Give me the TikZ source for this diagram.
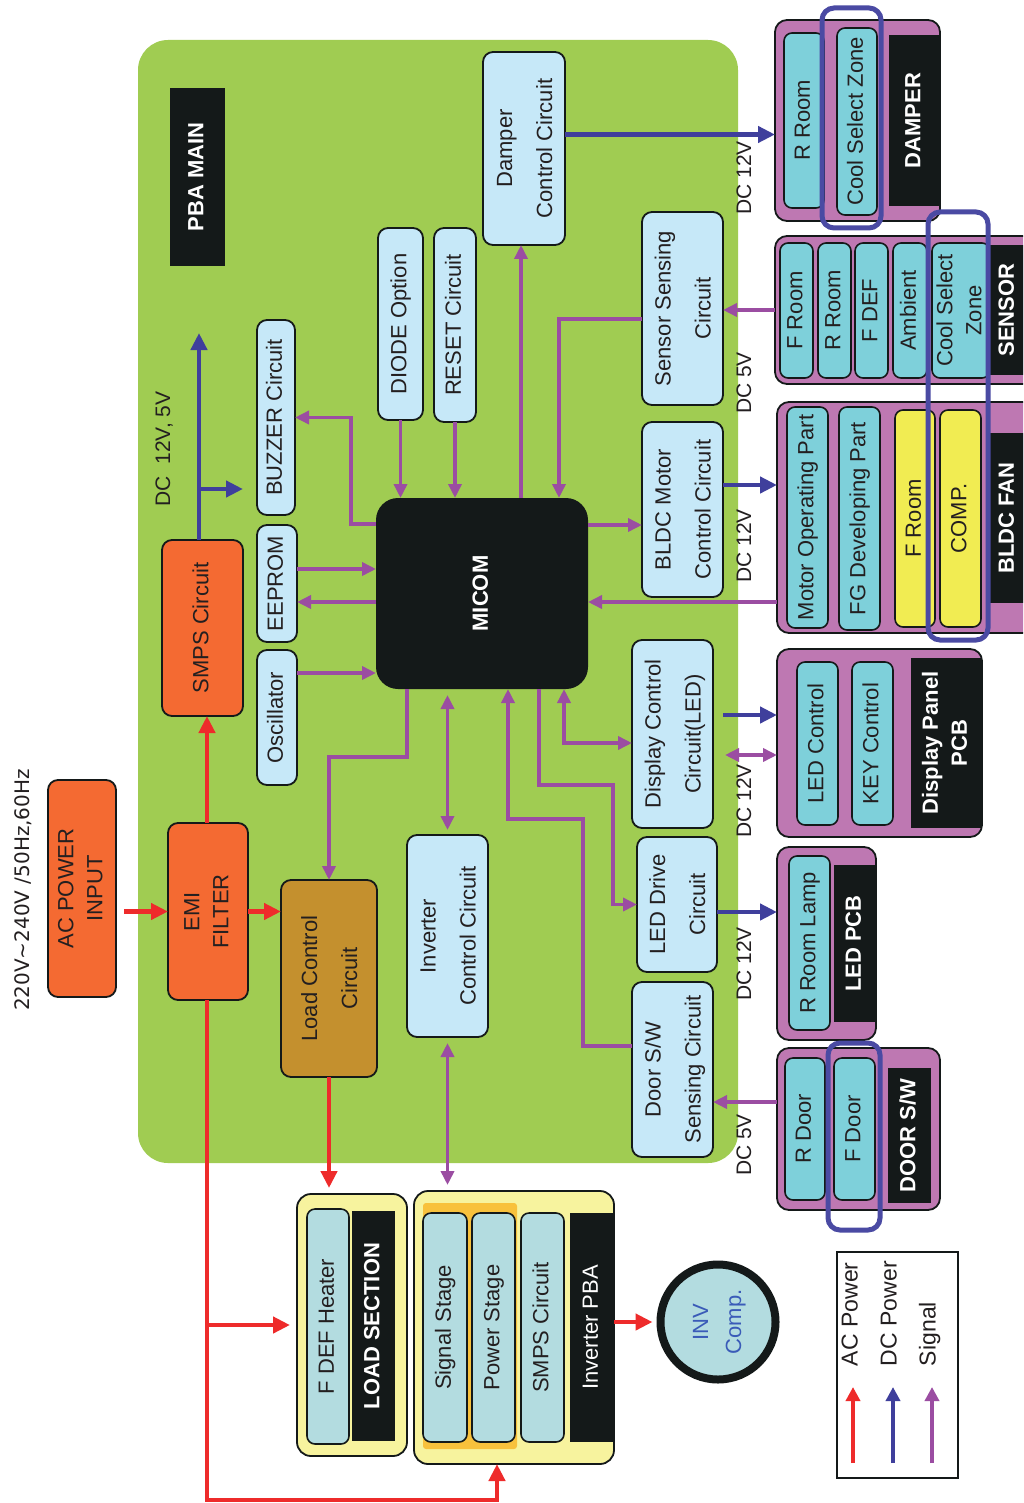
\documentclass[tikz,border=0pt]{standalone}
\usepackage{fontspec}
\setmainfont{Liberation Sans}
\newfontfamily\djv{DejaVu Sans}
\usetikzlibrary{arrows.meta,calc}
\definecolor{boardg}{RGB}{160,204,82}
\definecolor{lblue}{RGB}{198,232,248}
\definecolor{orng}{RGB}{244,106,50}
\definecolor{brwn}{RGB}{196,144,46}
\definecolor{purp}{RGB}{190,120,178}
\definecolor{cyanb}{RGB}{126,208,218}
\definecolor{yelb}{RGB}{241,236,82}
\definecolor{blk}{RGB}{20,25,25}
\definecolor{ylw}{RGB}{247,243,158}
\definecolor{paleb}{RGB}{179,220,224}
\definecolor{gold}{RGB}{248,193,60}
\definecolor{hlblue}{RGB}{74,74,163}
\definecolor{acred}{RGB}{238,43,43}
\definecolor{dcblue}{RGB}{63,63,156}
\definecolor{sigp}{RGB}{155,77,162}
\definecolor{txt}{RGB}{35,31,32}
\definecolor{invtxt}{RGB}{58,91,184}
\newcommand{\vt}[1]{\rotatebox{90}{\begin{tabular}{@{}c@{}}#1\end{tabular}}}
\tikzset{
  sz/.style 2 args={minimum width=#1pt, minimum height=#2pt},
  base/.style={inner sep=0pt, outer sep=0pt, anchor=north west, text=txt, font=\fontsize{22}{29}\selectfont},
  ls/.style={font=\fontsize{22}{40}\selectfont},
  lb/.style={base, draw=blk, line width=1.8pt, rounded corners=10pt, fill=lblue},
  orb/.style={lb, fill=orng},
  modbox/.style={base, draw=blk, line width=1.8pt, rounded corners=12pt, fill=purp},
  cy/.style={base, draw=blk, line width=1.6pt, rounded corners=8pt, fill=cyanb},
  yl/.style={cy, fill=yelb},
  pb/.style={cy, fill=paleb},
  ylbox/.style={base, draw=blk, line width=1.8pt, rounded corners=14pt, fill=ylw},
  bl/.style={base, fill=blk, text=white, font=\fontsize{22}{29}\selectfont\bfseries},
  hl/.style={base, draw=hlblue, line width=5pt, rounded corners=12pt},
  acp/.style={draw=acred, line width=4.5pt, -{Triangle[length=17pt,width=16pt]}},
  dcp/.style={draw=dcblue, line width=4.5pt, -{Triangle[length=17pt,width=16pt]}},
  sig/.style={draw=sigp, line width=3.5pt, -{Triangle[length=14pt,width=13pt]}},
  sigr/.style={draw=sigp, line width=3.5pt, {Triangle[length=14pt,width=13pt]}-},
  sigb/.style={draw=sigp, line width=3.5pt, {Triangle[length=14pt,width=13pt]}-{Triangle[length=14pt,width=13pt]}},
  lab/.style={inner sep=0pt, outer sep=0pt, text=txt, font=\fontsize{21}{25}\selectfont},
  legt/.style={inner sep=0pt, outer sep=0pt, anchor=south, text=txt, font=\fontsize{23}{28}\selectfont},
  lega/.style={line width=3.5pt, -{Triangle[length=14pt,width=14pt]}}
}
\begin{document}
\begin{tikzpicture}[x=1pt,y=-1pt]
\useasboundingbox (0,0) rectangle (1023,1503);
\begin{scope}
\clip (0,0) rectangle (1023,1503);
\fill[white] (0,0) rectangle (1023,1503);

% main board
\node[base, fill=boardg, rounded corners=30pt, sz={600}{1123}] (board) at (138,40) {};
\node[bl, sz={55}{178}] (pba) at (170,88) {\vt{PBA MAIN}};
\node[lb, ls, sz={82}{193}] (damperc) at (483,52) {\vt{Damper\\Control Circuit}};
\node[lb, sz={45}{192}] (diode) at (378,228) {\vt{DIODE Option}};
\node[lb, sz={42}{194}] (reset) at (434,228) {\vt{RESET Circuit}};
\node[lb, ls, sz={81}{193}] (sensc) at (642,212) {\vt{Sensor Sensing\\Circuit}};
\node[lb, sz={38}{195}] (buzzer) at (257,320) {\vt{BUZZER Circuit}};
\node[lb, sz={40}{117}] (eeprom) at (257,525) {\vt{EEPROM}};
\node[lb, sz={40}{135}] (osc) at (257,650) {\vt{Oscillator}};
\node[orb, sz={81}{176}] (smps) at (162,540) {\vt{SMPS Circuit}};
\node[base, fill=blk, rounded corners=22pt, text=white, font=\fontsize{22}{29}\selectfont\bfseries, sz={212}{191}] (micom) at (376,498) {\vt{MICOM}};
\node[lb, ls, sz={81}{175}] (bldcc) at (642,422) {\vt{BLDC Motor\\Control Circuit}};
\node[lb, ls, sz={81}{188}] (dispc) at (632,640) {\vt{Display Control\\Circuit(LED)}};
\node[lb, ls, sz={77}{135}] (ledd) at (637,837) {\vt{LED Drive\\Circuit}};
\node[lb, ls, sz={81}{175}] (doorc) at (632,982) {\vt{Door S/W\\Sensing Circuit}};
\node[lb, ls, sz={81}{202}] (invc) at (407,835) {\vt{Inverter\\Control Circuit}};
\node[lb, ls, fill=brwn, sz={96}{197}] (loadc) at (281,880) {\vt{Load Control\\Circuit}};
\node[orb, sz={80}{177}] (emi) at (168,823) {\vt{EMI\\FILTER}};
\node[orb, sz={68}{217}] (acin) at (48,780) {\vt{AC POWER\\INPUT}};

% labels
\node[inner sep=0pt, text=txt, font=\djv\fontsize{20}{24}\selectfont] (acv) at (23,890) {\rotatebox{90}{220V\textasciitilde240V /50Hz,60Hz}};
\node[lab] (dcsm) at (165,449) {\vt{DC\ \ 12V, 5V}};
\node[lab] (dcl1) at (746,178) {\vt{DC 12V}};
\node[lab] (dcl2) at (746,383) {\vt{DC 5V}};
\node[lab] (dcl3) at (746,546) {\vt{DC 12V}};
\node[lab] (dcl4) at (746,801) {\vt{DC 12V}};
\node[lab] (dcl5) at (746,964) {\vt{DC 12V}};
\node[lab] (dcl6) at (746,1145) {\vt{DC 5V}};

% DAMPER module
\node[modbox, sz={165}{201}] (damper) at (775,20) {};
\node[cy, sz={40}{175}] (droom) at (784,33) {\vt{R Room}};
\node[cy, sz={40}{187}] (dcool) at (837,28) {\vt{Cool Select Zone}};
\node[bl, sz={51}{171}] (dlab) at (889,35) {\vt{DAMPER}};
\node[hl, sz={59}{220}] (hl1) at (822,8) {};

% SENSOR module
\node[modbox, sz={260}{148}] (sensor) at (775,236) {};
\node[cy, sz={33}{135}] (sfroom) at (780,243) {\vt{F Room}};
\node[cy, sz={33}{135}] (srroom) at (818,243) {\vt{R Room}};
\node[cy, sz={33}{135}] (sfdef) at (855,243) {\vt{F DEF}};
\node[cy, sz={34}{135}] (samb) at (893,243) {\vt{Ambient}};
\node[cy, sz={50}{135}] (scool) at (932,243) {\vt{Cool Select\\Zone}};
\node[bl, sz={36}{130}] (slab) at (990,245) {\vt{SENSOR}};

% BLDC FAN module
\node[modbox, sz={258}{231}] (bldcfan) at (777,402) {};
\node[cy, sz={41}{221}] (motor) at (787,407) {\vt{Motor Operating Part}};
\node[cy, sz={41}{223}] (fg) at (839,407) {\vt{FG Developing Part}};
\node[yl, sz={40}{217}] (froom) at (895,410) {\vt{F Room}};
\node[yl, sz={41}{217}] (comp) at (940,410) {\vt{COMP.}};
\node[bl, sz={36}{170}] (blab) at (990,433) {\vt{BLDC FAN}};
\node[hl, sz={60}{428}] (hl2) at (928,212) {};

% Display panel
\node[modbox, sz={205}{188}] (dpanel) at (777,649) {};
\node[cy, sz={41}{163}] (ledc) at (797,662) {\vt{LED Control}};
\node[cy, sz={41}{163}] (keyc) at (852,662) {\vt{KEY Control}};
\node[bl, sz={71}{170}] (dplab) at (911,658) {\vt{Display Panel\\PCB}};

% LED PCB
\node[modbox, sz={99}{193}] (ledpcb) at (777,847) {};
\node[cy, sz={41}{174}] (rlamp) at (789,856) {\vt{R Room Lamp}};
\node[bl, sz={42}{157}] (llab) at (834,865) {\vt{LED PCB}};

% DOOR S/W
\node[modbox, sz={163}{162}] (doorsw) at (777,1048) {};
\node[cy, sz={40}{142}] (rdoor) at (785,1058) {\vt{R Door}};
\node[cy, sz={41}{142}] (fdoor) at (834,1058) {\vt{F Door}};
\node[bl, sz={43}{135}] (dwlab) at (888,1068) {\vt{DOOR S/W}};
\node[hl, sz={52}{187}] (hl3) at (828,1043) {};

% bottom sections
\node[ylbox, sz={110}{262}] (loadsec) at (297,1194) {};
\node[pb, sz={42}{235}] (fdef) at (307,1209) {\vt{F DEF Heater}};
\node[bl, sz={43}{230}] (lslab) at (352,1211) {\vt{LOAD SECTION}};
\node[ylbox, sz={200}{273}] (invpba) at (414,1191) {};
\node[base, fill=gold, rounded corners=3pt, sz={94}{246}] (stagehl) at (423,1203) {};
\node[pb, sz={44}{229}] (sigst) at (423,1213) {\vt{Signal Stage}};
\node[pb, sz={43}{229}] (powst) at (472,1213) {\vt{Power Stage}};
\node[pb, sz={43}{229}] (smps2) at (521,1213) {\vt{SMPS Circuit}};
\node[bl, font=\fontsize{22}{29}\selectfont, sz={44}{229}] (iplab) at (570,1213) {\vt{Inverter PBA}};
\node[circle, draw=blk, line width=8pt, fill=paleb, minimum size=115pt, inner sep=0pt, text=invtxt, font=\fontsize{22}{33}\selectfont] (invcomp) at (718,1322) {\vt{INV\\Comp.}};

% legend
\node[base, draw=blk, line width=2.5pt, sz={121}{226}] (legend) at (837,1252) {};
\node[legt] (lac) at (852,1366) {\vt{AC Power}};
\node[legt] (ldc) at (891,1366) {\vt{DC Power}};
\node[legt] (lsig) at (930,1366) {\vt{Signal}};
\coordinate (la1) at (853,1463); \coordinate (la2) at (853,1387);
\coordinate (lb1) at (893,1463); \coordinate (lb2) at (893,1387);
\coordinate (lc1) at (932,1463); \coordinate (lc2) at (932,1387);
\draw[lega, draw=acred] (la1) -- (la2);
\draw[lega, draw=dcblue] (lb1) -- (lb2);
\draw[lega, draw=sigp] (lc1) -- (lc2);

% AC power connectors
\draw[acp] ($(acin.east |- emi.west)+(8,0)$) -- (emi.west);
\draw[acp] (emi.east) -- (emi.east -| loadc.west);
\draw[acp] ($(emi.north)+(-1,0)$) -- ($(emi.north |- smps.south)+(-1,0)$);
\draw[acp] ($(emi.south)+(-1,0)$) |- ($(invpba.south)+(-17,36)$) -- ($(invpba.south)+(-17,0)$);
\draw[acp, shorten >=7pt] ($(emi.south |- loadsec.west)+(-1,0)$) -- (loadsec.west);
\draw[acp, shorten >=6pt] (loadc.south) -- (loadc.south |- loadsec.north);
\draw[acp, shorten >=4pt] (invpba.east |- invcomp.west) -- (invcomp.west);

% DC power connectors
\coordinate (dctop) at (199,333);
\coordinate (dcbr) at (243,489);
\draw[dcp] (smps.north -| dctop) -- (dctop);
\draw[dcp] (dcbr -| dctop) -- (dcbr);
\draw[dcp] ($(damperc.east)+(0,-14)$) coordinate (p1) -- (p1 -| damper.west);
\draw[dcp] ($(bldcc.east)+(0,-24.5)$) coordinate (p2) -- (p2 -| bldcfan.west);
\draw[dcp] ($(dispc.east)+(10,-19)$) coordinate (p3) -- (p3 -| dpanel.west);
\draw[dcp] ($(ledd.east)+(0,7.5)$) coordinate (p5) -- (p5 -| ledpcb.west);

% signal connectors
\draw[sigb] ($(dispc.east)+(12,21)$) coordinate (p4) -- (p4 -| dpanel.west);
\draw[sig] (sensor.west) -- (sensor.west -| sensc.east);
\draw[sig] ($(sensc.west)+(0,10.5)$) -| ($(micom.north)+(77,0)$);
\draw[sig] ($(micom.north)+(39,0)$) coordinate (p6) -- (p6 |- damperc.south);
\draw[sig] (diode.south) -- (diode.south |- micom.north);
\draw[sig] (reset.south) -- (reset.south |- micom.north);
\draw[sig] ($(micom.north west)+(0,26)$) -| ($(buzzer.east)+(56,0)$) -- (buzzer.east);
\draw[sig] ($(eeprom.east)+(0,-14.5)$) coordinate (p7) -- (p7 -| micom.west);
\draw[sigr] ($(eeprom.east)+(0,18.5)$) coordinate (p8) -- (p8 -| micom.west);
\draw[sig] ($(osc.east)+(0,-44.5)$) coordinate (p9) -- (p9 -| micom.west);
\draw[sig] ($(micom.east)+(0,-68.5)$) coordinate (p10) -- (p10 -| bldcc.west);
\draw[sig] ($(bldcfan.west)+(0,84.5)$) coordinate (p11) -- (p11 -| micom.east);
\draw[sig] ($(micom.south)+(-75,0)$) |- ($(loadc.north)+(0,-123)$) -- (loadc.north);
\draw[sigb, shorten <=6pt, shorten >=5pt] (invc.north |- micom.south) -- (invc.north);
\draw[sigb, shorten <=6pt, shorten >=6pt] (invc.south) -- (invc.south |- invpba.north);
\coordinate (bendA) at (583,819);
\draw[sig] ($(doorc.west)+(0,-23.5)$) -| (bendA) -| ($(micom.south)+(26,0)$);
\coordinate (bendB) at (613,785);
\draw[sig] ($(micom.south)+(57,0)$) |- (bendB) |- (ledd.west);
\draw[sigb] ($(micom.south)+(82,0)$) |- ($(dispc.west)+(0,9)$);
\draw[sig] ($(doorsw.west)+(0,-27)$) coordinate (p12) -- (p12 -| doorc.east);
\end{scope}
\end{tikzpicture}
\end{document}
